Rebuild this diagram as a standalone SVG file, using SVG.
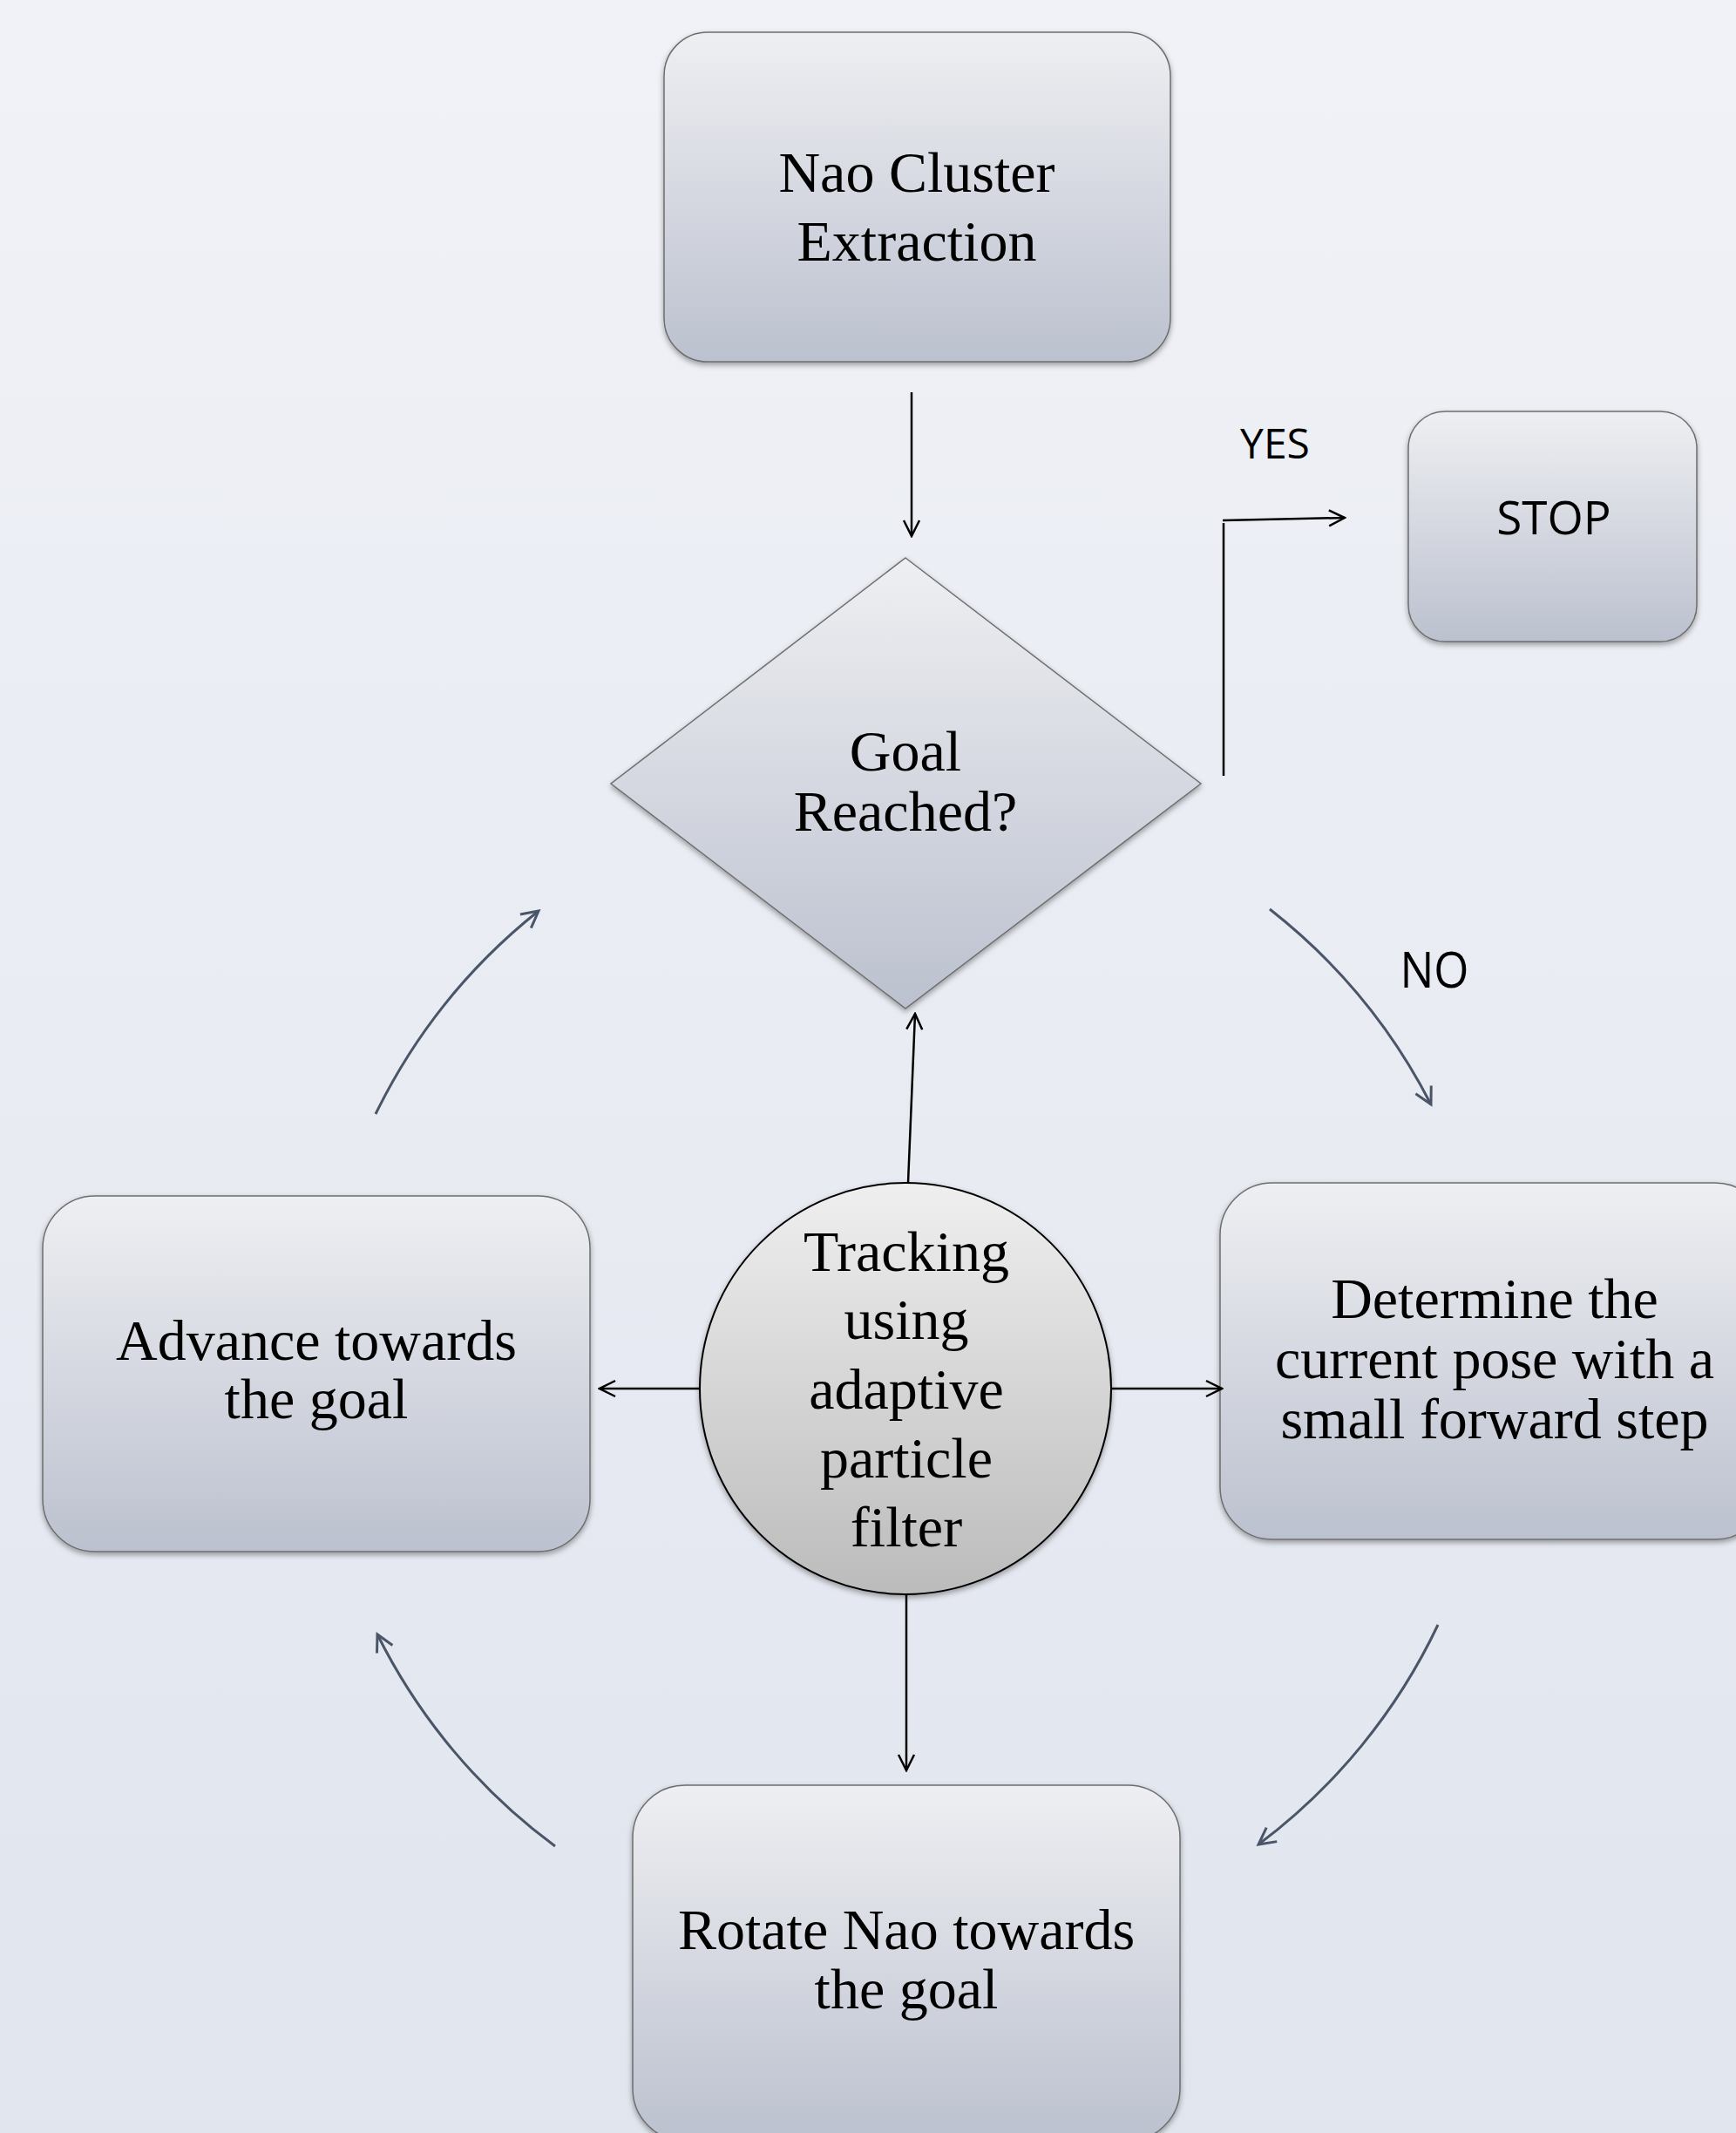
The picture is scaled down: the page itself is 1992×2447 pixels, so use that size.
<svg xmlns="http://www.w3.org/2000/svg" width="1992" height="2447" viewBox="0 0 1992 2447">
  <defs>
    <linearGradient id="bg" x1="0" y1="0" x2="0" y2="1">
      <stop offset="0" stop-color="#f0f2f7"/>
      <stop offset="1" stop-color="#e1e5ee"/>
    </linearGradient>
    <linearGradient id="boxFill" x1="0" y1="0" x2="0" y2="1">
      <stop offset="0" stop-color="#eeeff2"/>
      <stop offset="1" stop-color="#bcc1cf"/>
    </linearGradient>
    <linearGradient id="circFill" x1="0" y1="0" x2="0" y2="1">
      <stop offset="0" stop-color="#efefef"/>
      <stop offset="1" stop-color="#bbbbbb"/>
    </linearGradient>
    <filter id="shadow" x="-10%" y="-10%" width="120%" height="125%">
      <feDropShadow dx="0" dy="3" stdDeviation="3" flood-color="#000" flood-opacity="0.35"/>
    </filter>
    <marker id="blackArrow" viewBox="0 0 22 22" refX="20" refY="11" markerWidth="22" markerHeight="22" markerUnits="userSpaceOnUse" orient="auto">
      <path d="M2,2 L20,11 L2,20" fill="none" stroke="#000" stroke-width="2.5"/>
    </marker>
    <marker id="slateArrow" viewBox="0 0 26 26" refX="23" refY="13" markerWidth="26" markerHeight="26" markerUnits="userSpaceOnUse" orient="auto">
      <path d="M4,3 L23,13 L4,23" fill="none" stroke="#4a5668" stroke-width="3"/>
    </marker>
  </defs>
  <style>
    .box { fill: url(#boxFill); stroke: #6e6e6e; stroke-width: 1.5; filter: url(#shadow); }
    .serif { font-family: "Liberation Serif", "Times New Roman", serif; font-size: 66px; fill: #000; text-anchor: middle; }
    .sans { font-family: "Open Sans", "Liberation Sans", sans-serif; fill: #000; text-anchor: middle; }
    .conn { fill: none; stroke: #000; stroke-width: 2.5; }
    .arc { fill: none; stroke: #4a5668; stroke-width: 3; }
  </style>

  <rect x="0" y="0" width="1992" height="2447" fill="url(#bg)"/>

  <g id="nao-cluster">
    <rect class="box" x="762" y="37" width="581" height="378" rx="50" ry="50"/>
    <text class="serif" x="1052" y="220">Nao Cluster</text>
    <text class="serif" x="1052" y="299">Extraction</text>
  </g>

  <g id="stop">
    <rect class="box" x="1616" y="472" width="331" height="264" rx="42" ry="42"/>
    <text class="sans" x="1783" y="613" font-size="53">STOP</text>
  </g>

  <g id="goal-reached">
    <polygon class="box" points="1039,640 1378,899 1039,1157 701,899"/>
    <text class="serif" x="1039" y="884">Goal</text>
    <text class="serif" x="1039" y="953">Reached?</text>
  </g>

  <g id="tracking">
    <circle cx="1039" cy="1593" r="236" fill="url(#circFill)" stroke="#000" stroke-width="2" filter="url(#shadow)"/>
    <text class="serif" x="1040" y="1458">Tracking</text>
    <text class="serif" x="1040" y="1536">using</text>
    <text class="serif" x="1040" y="1616">adaptive</text>
    <text class="serif" x="1040" y="1695">particle</text>
    <text class="serif" x="1040" y="1774">filter</text>
  </g>

  <g id="advance">
    <rect class="box" x="49" y="1372" width="628" height="408" rx="60" ry="60"/>
    <text class="serif" x="363" y="1560">Advance towards</text>
    <text class="serif" x="363" y="1627">the goal</text>
  </g>

  <g id="determine">
    <rect class="box" x="1400" y="1357" width="628" height="409" rx="60" ry="60"/>
    <text class="serif" x="1715" y="1512">Determine the</text>
    <text class="serif" x="1715" y="1581">current pose with a</text>
    <text class="serif" x="1715" y="1650">small forward step</text>
  </g>

  <g id="rotate">
    <rect class="box" x="726" y="2048" width="628" height="408" rx="60" ry="60"/>
    <text class="serif" x="1040" y="2236">Rotate Nao towards</text>
    <text class="serif" x="1040" y="2304">the goal</text>
  </g>

  <g id="connectors">
    <line class="conn" x1="1046" y1="450" x2="1046" y2="615" marker-end="url(#blackArrow)"/>
    <polyline class="conn" points="1404,890 1404,600"/>
    <line class="conn" x1="1403" y1="597" x2="1543" y2="594" marker-end="url(#blackArrow)"/>
    <line class="conn" x1="1042" y1="1357" x2="1050" y2="1163" marker-end="url(#blackArrow)"/>
    <line class="conn" x1="802" y1="1593" x2="688" y2="1593" marker-end="url(#blackArrow)"/>
    <line class="conn" x1="1276" y1="1593" x2="1402" y2="1593" marker-end="url(#blackArrow)"/>
    <line class="conn" x1="1040" y1="1829" x2="1040" y2="2031" marker-end="url(#blackArrow)"/>

    <path class="arc" d="M1457,1043 A676,676 0 0 1 1642,1267" marker-end="url(#slateArrow)"/>
    <path class="arc" d="M1650,1864 A676,676 0 0 1 1444,2116" marker-end="url(#slateArrow)"/>
    <path class="arc" d="M637,2118 A676,676 0 0 1 433,1875" marker-end="url(#slateArrow)"/>
    <path class="arc" d="M431,1278 A676,676 0 0 1 618,1045" marker-end="url(#slateArrow)"/>

    <text class="sans" x="1463" y="526" font-size="48">YES</text>
    <text class="sans" x="1646" y="1133" font-size="57" textLength="79" lengthAdjust="spacingAndGlyphs">NO</text>
  </g>
</svg>
